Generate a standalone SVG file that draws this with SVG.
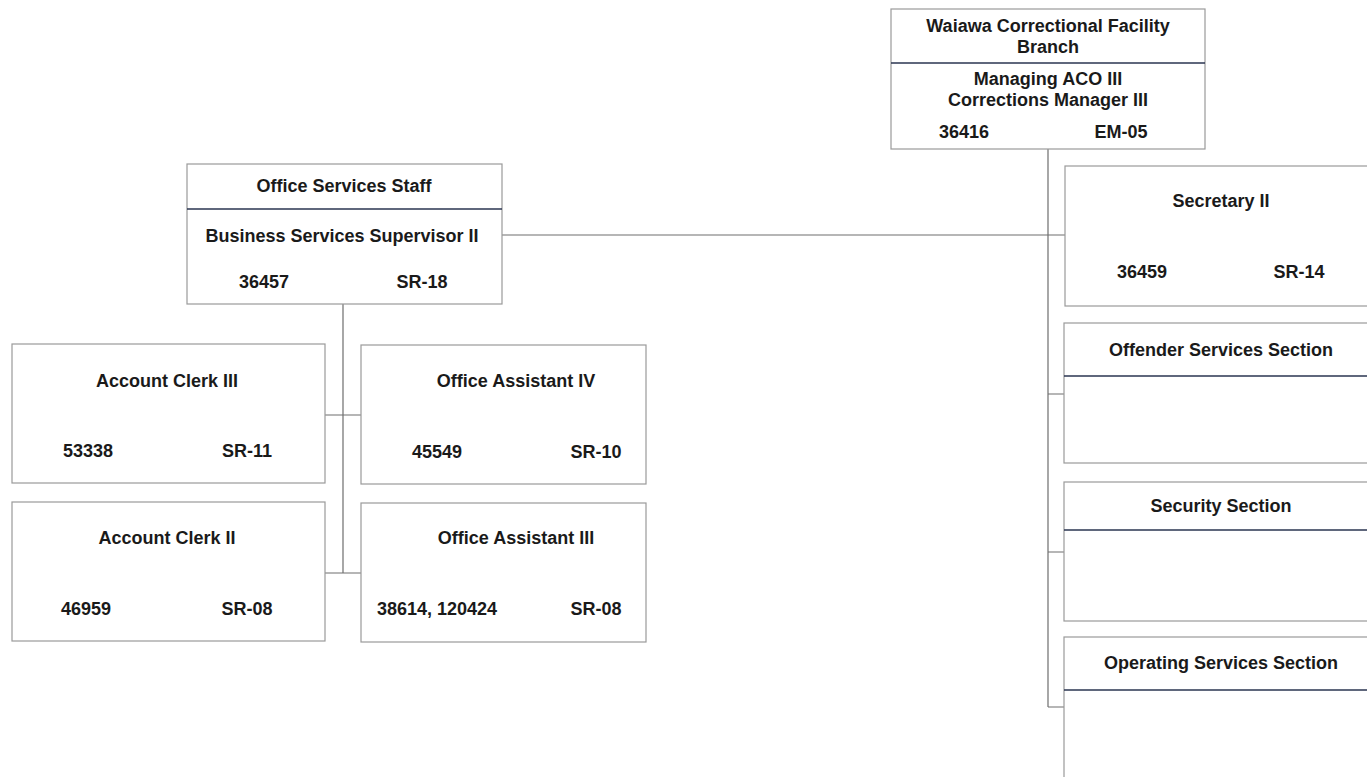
<svg xmlns="http://www.w3.org/2000/svg" width="1367" height="777" viewBox="0 0 1367 777">
<style>
.box{fill:#fff;stroke:#9a9a9a;stroke-width:1.2}
.div{stroke:#2a3550;stroke-width:1.6}
.conn{fill:none;stroke:#6e6e6e;stroke-width:1.2}
text{font-family:"Liberation Sans",Arial,sans-serif;font-weight:bold;font-size:18px;fill:#1a1a1a;text-anchor:middle}
</style>
<rect width="1367" height="777" fill="#fff"/>
<g id="connectors">
<path class="conn" d="M1048 149 V707 M502 235 H1065 M1048 394 H1065 M1048 552 H1065 M1048 707 H1065"/>
<path class="conn" d="M343 304 V573 M325 415 H361 M325 573 H361"/>
</g>
<g id="waiawa">
<rect class="box" x="891" y="9" width="314" height="140"/>
<line class="div" x1="891" y1="63" x2="1205" y2="63"/>
<text x="1048" y="32">Waiawa Correctional Facility</text>
<text x="1048" y="53">Branch</text>
<text x="1048" y="85">Managing ACO III</text>
<text x="1048" y="106">Corrections Manager III</text>
<text x="964" y="138">36416</text>
<text x="1121" y="138">EM-05</text>
</g>
<g id="secretary">
<rect class="box" x="1065" y="166" width="320" height="140"/>
<text x="1221" y="207">Secretary II</text>
<text x="1142" y="278">36459</text>
<text x="1299" y="278">SR-14</text>
</g>
<g id="offender">
<rect class="box" x="1064" y="323" width="320" height="140"/>
<line class="div" x1="1064" y1="376" x2="1384" y2="376"/>
<text x="1221" y="356">Offender Services Section</text>
</g>
<g id="security">
<rect class="box" x="1064" y="482" width="320" height="139"/>
<line class="div" x1="1064" y1="530" x2="1384" y2="530"/>
<text x="1221" y="512">Security Section</text>
</g>
<g id="operating">
<rect class="box" x="1064" y="637" width="320" height="160"/>
<line class="div" x1="1064" y1="690" x2="1384" y2="690"/>
<text x="1221" y="669">Operating Services Section</text>
</g>
<g id="office-services">
<rect class="box" x="187" y="164" width="315" height="140"/>
<line class="div" x1="187" y1="209" x2="502" y2="209"/>
<text x="344" y="192">Office Services Staff</text>
<text x="342" y="242">Business Services Supervisor II</text>
<text x="264" y="288">36457</text>
<text x="422" y="288">SR-18</text>
</g>
<g id="account-clerk-3">
<rect class="box" x="12" y="344" width="313" height="139"/>
<text x="167" y="387">Account Clerk III</text>
<text x="88" y="457">53338</text>
<text x="247" y="457">SR-11</text>
</g>
<g id="office-assistant-4">
<rect class="box" x="361" y="345" width="285" height="139"/>
<text x="516" y="387">Office Assistant IV</text>
<text x="437" y="458">45549</text>
<text x="596" y="458">SR-10</text>
</g>
<g id="account-clerk-2">
<rect class="box" x="12" y="502" width="313" height="139"/>
<text x="167" y="544">Account Clerk II</text>
<text x="86" y="615">46959</text>
<text x="247" y="615">SR-08</text>
</g>
<g id="office-assistant-3">
<rect class="box" x="361" y="503" width="285" height="139"/>
<text x="516" y="544">Office Assistant III</text>
<text x="437" y="615">38614, 120424</text>
<text x="596" y="615">SR-08</text>
</g>
</svg>
